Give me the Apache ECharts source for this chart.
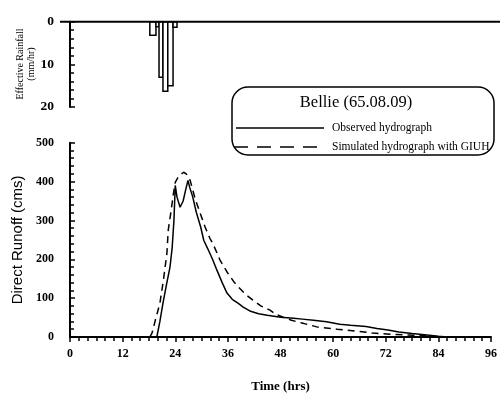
<!DOCTYPE html>
<html>
<head>
<meta charset="utf-8">
<script src="https://cdn.jsdelivr.net/npm/echarts@6/dist/echarts.min.js"></script>
<style>
  html, body { margin: 0; padding: 0; background: #fff; }
  #chart { width: 500px; height: 397px; }
</style>
</head>
<body>
<div id="chart"></div>
<script>
// Effective rainfall hyetograph: interval edges (hrs) and intensity (mm/hr)
const rainEdges = [18.2, 19.6, 20.3, 21.2, 22.3, 23.5, 24.4];
const rainValues = [3.2, 1.2, 13.0, 16.3, 15.0, 1.3];

// Observed direct runoff hydrograph (time hrs, discharge cms)
const observedTime = [19.8, 20.5, 21.2, 22, 22.8, 23.3, 23.7, 24, 24.4, 25.1, 25.8, 26.4, 26.9, 27.3, 28, 28.8, 29.8, 30.5, 31.5, 32.5, 33.5, 34.7, 35.8, 37, 38.3, 39.5, 41, 43, 45, 48, 51, 53, 55.5, 58.5, 61.5, 64, 67.5, 70, 72.5, 75, 78, 81.4, 84, 86, 96];
const observedFlow = [0, 40, 87, 135, 180, 230, 300, 390, 360, 334, 350, 380, 403, 385, 360, 321, 283, 249, 225, 200, 172, 140, 113, 97, 87, 77, 67, 60, 56, 51, 48, 46, 43, 39, 33, 30, 27, 22, 18, 13, 9, 5, 2, 0, 0];

// Simulated hydrograph with GIUH
const simulatedTime = [18.2, 18.7, 19.5, 20.5, 21.3, 22.1, 22.4, 23, 23.6, 24, 24.6, 25.2, 25.9, 26.5, 27.4, 28.5, 29.6, 30.8, 31.9, 32.6, 34.2, 36, 37.5, 38.8, 40, 41.7, 43.5, 45.6, 47, 48.6, 50.5, 52.9, 56.3, 60.9, 65.5, 69, 73, 77, 81.4, 85, 96];
const simulatedFlow = [0, 10, 45, 87, 146, 216, 275, 321, 370, 398, 410, 418, 424, 420, 403, 357, 321, 283, 254, 240, 198, 164, 140, 124, 110, 95, 80, 69, 58, 51, 43, 36, 26, 20, 15, 10, 7, 5, 3, 0, 0];

// Axis ticks
const timeTicks = { min: 0, max: 96, interval: 12 };
const flowTicks = { min: 0, max: 500, interval: 100 };
const rainTicks = { min: 0, max: 20, interval: 10 };

const legendTitle = 'Bellie (65.08.09)';
const legendObserved = 'Observed hydrograph';
const legendSimulated = 'Simulated hydrograph with GIUH';

const serif = '"Liberation Serif", "DejaVu Serif", serif';
const sans = '"Liberation Sans", Arial, sans-serif';

const rainData = rainValues.map((v, i) => [rainEdges[i], rainEdges[i + 1], v]);
const zip = (a, b) => a.map((x, i) => [x, b[i]]);

const chart = echarts.init(document.getElementById('chart'), null, { renderer: 'canvas' });

const tickLabel = { fontFamily: serif, fontWeight: 'bold', fontSize: 12, color: '#000' };

chart.setOption({
  animation: false,
  backgroundColor: '#fff',
  grid: [
    { left: 70, right: 9, top: 21.7, height: 85.3 },
    { left: 70, right: 9, top: 142.7, bottom: 60 }
  ],
  xAxis: [
    {
      gridIndex: 0, type: 'value', min: timeTicks.min, max: timeTicks.max, interval: timeTicks.interval,
      position: 'top',
      axisLine: { show: false }, axisTick: { show: false }, axisLabel: { show: false }, splitLine: { show: false }
    },
    {
      gridIndex: 1, type: 'value', min: timeTicks.min, max: timeTicks.max, interval: timeTicks.interval,
      name: 'Time (hrs)', nameLocation: 'middle', nameGap: 43,
      nameTextStyle: { fontFamily: serif, fontWeight: 'bold', fontSize: 13, color: '#000' },
      axisLine: { lineStyle: { color: '#000', width: 2 } },
      axisTick: { inside: false, length: 5, lineStyle: { color: '#000', width: 1.5 } },
      minorTick: { show: true, splitNumber: 6, length: 4, lineStyle: { color: '#000', width: 1.5 } },
      axisLabel: Object.assign({ margin: 11 }, tickLabel),
      splitLine: { show: false }
    }
  ],
  yAxis: [
    {
      gridIndex: 0, type: 'value', inverse: true, min: rainTicks.min, max: rainTicks.max, interval: rainTicks.interval,
      axisLine: { lineStyle: { color: '#000', width: 2 } },
      axisTick: { inside: true, length: 5, lineStyle: { color: '#000', width: 1.5 } },
      minorTick: { show: true, splitNumber: 5, length: 4, lineStyle: { color: '#000', width: 1.5 } },
      axisLabel: Object.assign({ margin: 16 }, tickLabel, { fontSize: 13.5 }),
      splitLine: { show: false }
    },
    {
      gridIndex: 1, type: 'value', min: flowTicks.min, max: flowTicks.max, interval: flowTicks.interval,
      name: 'Direct Runoff (cms)', nameLocation: 'middle', nameGap: 36,
      nameTextStyle: { fontFamily: sans, fontSize: 15, color: '#000' },
      axisLine: { lineStyle: { color: '#000', width: 2 } },
      axisTick: { inside: true, length: 5, lineStyle: { color: '#000', width: 1.5 } },
      minorTick: { show: true, splitNumber: 5, length: 4, lineStyle: { color: '#000', width: 1.5 } },
      axisLabel: Object.assign({ margin: 16 }, tickLabel),
      splitLine: { show: false }
    }
  ],
  series: [
    {
      type: 'custom', xAxisIndex: 0, yAxisIndex: 0, data: rainData,
      renderItem: function (params, api) {
        const p0 = api.coord([api.value(0), 0]);
        const p1 = api.coord([api.value(1), api.value(2)]);
        return {
          type: 'rect',
          shape: { x: p0[0], y: p0[1], width: p1[0] - p0[0], height: p1[1] - p0[1] },
          style: { fill: '#fff', stroke: '#000', lineWidth: 1.5 }
        };
      }
    },
    {
      name: legendObserved, type: 'line', xAxisIndex: 1, yAxisIndex: 1,
      data: zip(observedTime, observedFlow), showSymbol: false, smooth: false,
      lineStyle: { color: '#000', width: 1.5 }, z: 3
    },
    {
      name: legendSimulated, type: 'line', xAxisIndex: 1, yAxisIndex: 1,
      data: zip(simulatedTime, simulatedFlow), showSymbol: false, smooth: false,
      lineStyle: { color: '#000', width: 1.5, type: [7, 5] }, z: 3
    }
  ],
  graphic: [
    // hyetograph baseline across the top panel
    { type: 'line', shape: { x1: 60, y1: 21.7, x2: 500, y2: 21.7 }, style: { stroke: '#000', lineWidth: 2 }, z: 10 },
    // rainfall axis title
    {
      type: 'text', x: 20, y: 64, rotation: Math.PI / 2,
      style: { text: 'Effective Rainfall', font: '10px ' + serif, fill: '#000', align: 'center', verticalAlign: 'middle' }
    },
    {
      type: 'text', x: 31, y: 64, rotation: Math.PI / 2,
      style: { text: '(mm/hr)', font: '10px ' + serif, fill: '#000', align: 'center', verticalAlign: 'middle' }
    },
    // legend box
    {
      type: 'group', z: 20,
      children: [
        { type: 'rect', shape: { x: 232, y: 87, width: 262, height: 68, r: 16 }, style: { fill: '#fff', stroke: '#000', lineWidth: 1.5 } },
        { type: 'text', x: 356, y: 103, style: { text: legendTitle, font: '16.5px ' + serif, fill: '#000', align: 'center', verticalAlign: 'middle' } },
        { type: 'line', shape: { x1: 236, y1: 128, x2: 324, y2: 128 }, style: { stroke: '#000', lineWidth: 1.5 } },
        { type: 'text', x: 332, y: 128, style: { text: legendObserved, font: '11.5px ' + serif, fill: '#000', align: 'left', verticalAlign: 'middle' } },
        { type: 'line', shape: { x1: 234, y1: 147, x2: 324, y2: 147 }, style: { stroke: '#000', lineWidth: 1.5, lineDash: [14, 9] } },
        { type: 'text', x: 332, y: 147, style: { text: legendSimulated, font: '11.5px ' + serif, fill: '#000', align: 'left', verticalAlign: 'middle' } }
      ]
    }
  ]
});
</script>
</body>
</html>
